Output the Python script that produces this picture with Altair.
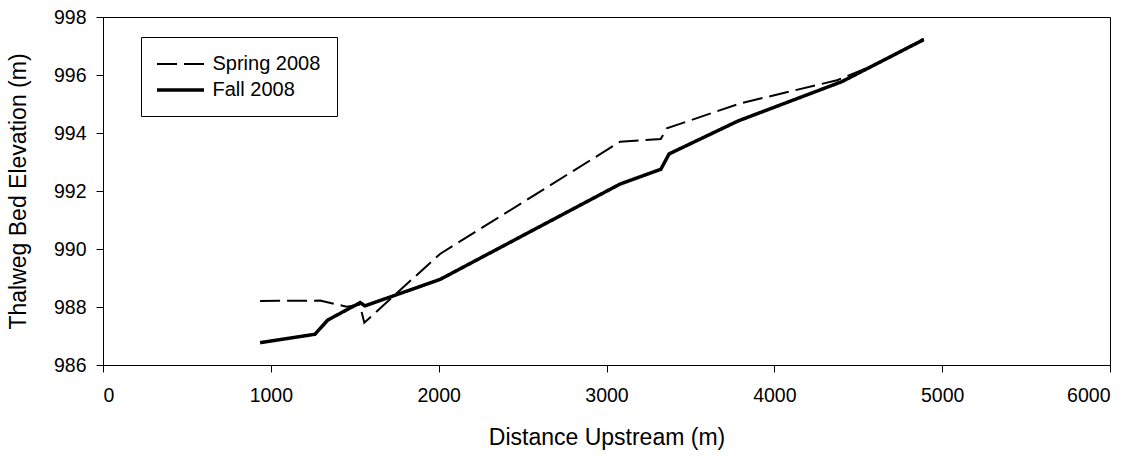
import altair as alt
import pandas as pd

spring_x = [936, 1293, 1452, 1530, 1557, 2008, 3081, 3323, 3359, 3796, 4373, 4620, 4890]
spring_y = [988.21, 988.22, 988.01, 988.08, 987.46, 989.83, 993.70, 993.79, 994.16, 995.02, 995.82, 996.40, 997.25]

fall_x = [936, 1263, 1339, 1532, 1561, 2008, 3081, 3324, 3373, 3786, 4402, 4890]
fall_y = [986.77, 987.06, 987.55, 988.15, 988.04, 988.95, 992.24, 992.75, 993.28, 994.42, 995.77, 997.22]

series_names = ["Spring 2008", "Fall 2008"]
x_ticks = [0, 1000, 2000, 3000, 4000, 5000, 6000]
y_ticks = [986, 988, 990, 992, 994, 996, 998]

rows = []
for i, (x, y) in enumerate(zip(spring_x, spring_y)):
    rows.append({"series": series_names[0], "order": i, "dist": x, "elev": y})
for i, (x, y) in enumerate(zip(fall_x, fall_y)):
    rows.append({"series": series_names[1], "order": i, "dist": x, "elev": y})
df = pd.DataFrame(rows)

FONT = "Liberation Sans"

chart = alt.Chart(df).mark_line(color="black").encode(
    x=alt.X("dist:Q",
            scale=alt.Scale(domain=[0, 6000], nice=False),
            axis=alt.Axis(values=x_ticks, format="d", title="Distance Upstream (m)", grid=False,
                          labelPadding=14, titleY=72, titleBaseline="middle")),
    y=alt.Y("elev:Q",
            scale=alt.Scale(domain=[986, 998], nice=False, zero=False),
            axis=alt.Axis(values=y_ticks, format="d", title="Thalweg Bed Elevation (m)", grid=False,
                          labelPadding=10, titleX=-85, titleY=174,
                          titleAlign="center", titleBaseline="middle", titleAngle=-90)),
    order="order:Q",
    strokeDash=alt.StrokeDash("series:N",
                              scale=alt.Scale(domain=series_names, range=[[20, 7], [1, 0]]),
                              legend=alt.Legend(title=None, orient="none", legendX=38, legendY=20,
                                                symbolType="M-2.35,0H2.35", symbolSize=400,
                                                symbolStrokeColor="black", symbolOffset=11.5,
                                                labelFont=FONT, labelFontSize=20, labelColor="black",
                                                labelOffset=20, padding=16, rowPadding=4,
                                                strokeColor="black", fillColor="white")),
    strokeWidth=alt.StrokeWidth("series:N",
                                scale=alt.Scale(domain=series_names, range=[2, 3.5]),
                                legend=None),
).properties(
    width=1007,
    height=348,
    autosize=alt.AutoSizeParams(type="none"),
    padding={"left": 103, "top": 17, "right": 34, "bottom": 100},
    background="white",
).configure_view(
    stroke="black", strokeWidth=1
).configure_axis(
    domainColor="black", tickColor="black", labelColor="black", titleColor="black",
    labelFont=FONT, titleFont=FONT, labelFontSize=19.5, titleFontSize=23,
    titleFontWeight="normal", tickSize=7, domainWidth=1, tickWidth=1,
)

chart.save("out.html", embed_options={"renderer": "svg", "actions": False})
